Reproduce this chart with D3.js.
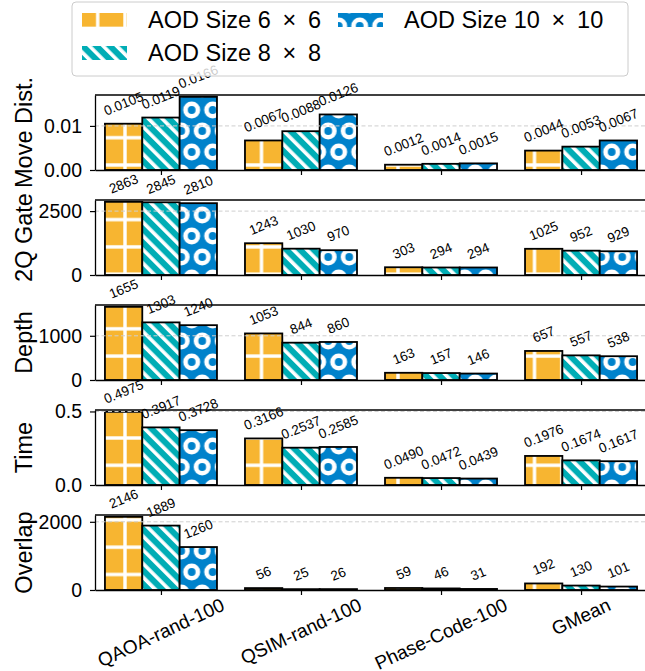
<!DOCTYPE html>
<html>
<head>
<meta charset="utf-8">
<script src="https://cdn.jsdelivr.net/npm/d3@7"></script>
<style>
  body { margin: 0; background: #fff; }
  text { font-family: "Liberation Sans", Arial, sans-serif; }
</style>
</head>
<body>
<script>
const categories = ["QAOA-rand-100", "QSIM-rand-100", "Phase-Code-100", "GMean"];
const seriesNames = ["AOD Size 6\u2002\u00d7\u20026", "AOD Size 8\u2002\u00d7\u20028", "AOD Size 10\u2002\u00d7\u200210"];

// one row per AOD size, one value per category
const moveDist = [[0.0105, 0.0067, 0.0012, 0.0044], [0.0119, 0.0088, 0.0014, 0.0053], [0.0166, 0.0126, 0.0015, 0.0067]];
const gateNum  = [[2863, 1243, 303, 1025], [2845, 1030, 294, 952], [2810, 970, 294, 929]];
const depth    = [[1655, 1053, 163, 657], [1303, 844, 157, 557], [1240, 860, 146, 538]];
const timeVals = [[0.4975, 0.3166, 0.0490, 0.1976], [0.3917, 0.2537, 0.0472, 0.1674], [0.3728, 0.2585, 0.0439, 0.1617]];
const overlap  = [[2146, 56, 59, 192], [1889, 25, 46, 130], [1260, 26, 31, 101]];

const panelLabels = ["Move Dist.", "2Q Gate", "Depth", "Time", "Overlap"];
const panelTicks = [[0, 0.01], [0, 2500], [0, 1000], [0, 0.5], [0, 2000]];

const colors = ["#f7b531", "#00adb5", "#0082cb"];

const panels = [
  { label: panelLabels[0], values: moveDist, ticks: panelTicks[0], tickFmt: d3.format(".2f"), valFmt: d3.format(".4f") },
  { label: panelLabels[1], values: gateNum,  ticks: panelTicks[1], tickFmt: d3.format("d"),   valFmt: d3.format("d") },
  { label: panelLabels[2], values: depth,    ticks: panelTicks[2], tickFmt: d3.format("d"),   valFmt: d3.format("d") },
  { label: panelLabels[3], values: timeVals, ticks: panelTicks[3], tickFmt: d3.format(".1f"), valFmt: d3.format(".4f") },
  { label: panelLabels[4], values: overlap,  ticks: panelTicks[4], tickFmt: d3.format("d"),   valFmt: d3.format("d") }
];

const width = 645, height = 671;
const plotLeft = 95, plotRight = 647;
const panelTop0 = 95, panelStep = 105, panelH = 75;

const svg = d3.select("body").append("svg")
  .attr("width", width)
  .attr("height", height);

// hatch patterns
const defs = svg.append("defs");
const cs = 27.3;
const pCross = defs.append("pattern").attr("id", "hatch0")
  .attr("patternUnits", "userSpaceOnUse")
  .attr("width", cs).attr("height", cs)
  .attr("x", 125 - cs / 2).attr("y", 137.7 - cs / 2);
pCross.append("rect").attr("width", cs).attr("height", cs).attr("fill", colors[0]);
pCross.append("rect").attr("x", cs / 2 - 1.7).attr("width", 3.4).attr("height", cs).attr("fill", "#fff");
pCross.append("rect").attr("y", cs / 2 - 1.7).attr("width", cs).attr("height", 3.4).attr("fill", "#fff");

const ds = 9.65;
const pDiag = defs.append("pattern").attr("id", "hatch1")
  .attr("patternUnits", "userSpaceOnUse")
  .attr("width", ds).attr("height", ds)
  .attr("patternTransform", "rotate(-45)");
pDiag.append("rect").attr("width", ds).attr("height", ds).attr("fill", colors[1]);
pDiag.append("rect").attr("width", 3.6).attr("height", ds).attr("fill", "#fff");

const os = 21;
const pCirc = defs.append("pattern").attr("id", "hatch2")
  .attr("patternUnits", "userSpaceOnUse")
  .attr("width", os).attr("height", os * 2)
  .attr("x", 191.7).attr("y", 110);
pCirc.append("rect").attr("width", os).attr("height", os * 2).attr("fill", colors[2]);
[[0, 0], [os, 0], [0, os * 2], [os, os * 2], [os / 2, os]].forEach(([cx, cy]) => {
  pCirc.append("circle").attr("cx", cx).attr("cy", cy).attr("r", 6.2)
    .attr("fill", "none").attr("stroke", "#fff").attr("stroke-width", 4.6);
});

const x = d3.scaleLinear().domain([-0.471, 3.471]).range([plotLeft, plotRight]);
const inner = d3.scaleBand().domain(d3.range(seriesNames.length)).range([-0.4, 0.4]);
const barW = x(inner.bandwidth()) - x(0);

// rotated text, bbox centred on ax, its top or bottom edge at ay (matplotlib style)
function rotatedLabel(parent, str, fs, ang, ax, ay, va) {
  const g = parent.append("g");
  const t = g.append("text")
    .text(str)
    .attr("font-size", fs)
    .attr("text-anchor", "middle")
    .attr("dominant-baseline", "central")
    .attr("fill", "#000");
  const L = t.node().getComputedTextLength();
  const r = ang * Math.PI / 180;
  const bh = L * Math.sin(r) + fs * Math.cos(r);
  const cy = va === "top" ? ay + bh / 2 : ay - bh / 2;
  g.attr("transform", `translate(${ax},${cy}) rotate(${-ang})`);
}

panels.forEach((p, pi) => {
  const top = panelTop0 + pi * panelStep, bottom = top + panelH;
  const y = d3.scaleLinear()
    .domain([0, d3.max(p.values.flat()) * 1.025])
    .range([bottom, top]);

  const g = svg.append("g");

  p.values.forEach((vals, si) => {
    g.append("g").selectAll("rect")
      .data(vals)
      .enter()
      .append("rect")
      .attr("x", (d, ci) => x(ci + inner(si)))
      .attr("y", d => y(d))
      .attr("width", barW)
      .attr("height", d => y(0) - y(d))
      .attr("fill", `url(#hatch${si})`)
      .attr("stroke", "#000")
      .attr("stroke-width", 1.8);
  });

  // dashed grid, above the bars like matplotlib's default
  g.append("g").selectAll("line")
    .data(p.ticks.filter(t => t > 0))
    .enter()
    .append("line")
    .attr("x1", plotLeft).attr("x2", plotRight)
    .attr("y1", d => y(d)).attr("y2", d => y(d))
    .attr("stroke", "#cfcfcf")
    .attr("stroke-width", 1)
    .attr("stroke-dasharray", "4,2.5");

  // top spine
  g.append("line")
    .attr("x1", plotLeft).attr("x2", plotRight)
    .attr("y1", top).attr("y2", top)
    .attr("stroke", "#000").attr("stroke-width", 1.3);

  const yAxis = g.append("g")
    .attr("transform", `translate(${plotLeft},0)`)
    .call(d3.axisLeft(y).tickValues(p.ticks).tickFormat(p.tickFmt).tickSize(5).tickSizeOuter(0).tickPadding(8));
  yAxis.select(".domain").attr("stroke-width", 1.3);
  yAxis.selectAll(".tick line").attr("stroke-width", 1.2);
  yAxis.selectAll("text")
    .attr("font-family", "Liberation Sans, Arial, sans-serif")
    .attr("font-size", 19.5)
    .attr("fill", "#000");

  const xAxis = g.append("g")
    .attr("transform", `translate(0,${bottom})`)
    .call(d3.axisBottom(x).tickValues(d3.range(categories.length)).tickFormat("").tickSize(5).tickSizeOuter(0));
  xAxis.select(".domain").attr("stroke-width", 1.3);
  xAxis.selectAll(".tick line").attr("stroke-width", 1.2);

  // y label
  g.append("text")
    .attr("transform", `translate(32,${(top + bottom) / 2}) rotate(-90)`)
    .attr("text-anchor", "middle")
    .attr("font-size", 23.5)
    .attr("fill", "#000")
    .text(p.label);

  // value labels
  const lg = g.append("g");
  p.values.forEach((vals, si) => {
    vals.forEach((v, ci) => {
      rotatedLabel(lg, p.valFmt(v), 13.5, 22, x(ci + inner(si)) + barW / 2, y(v) - 6, "bottom");
    });
  });

  // category labels on the last panel only
  if (pi === panels.length - 1) {
    categories.forEach((c, ci) => {
      rotatedLabel(g, c, 19, 25, x(ci), bottom + 5, "top");
    });
  }
});

// legend, drawn last with a translucent white box
const legend = svg.append("g");
legend.append("rect")
  .attr("x", 72).attr("y", 2)
  .attr("width", 556).attr("height", 74)
  .attr("rx", 4)
  .attr("fill", "#fff").attr("fill-opacity", 0.8)
  .attr("stroke", "#cccccc").attr("stroke-width", 1);

const legendPos = [[82, 20], [82, 53], [338, 20]];
seriesNames.forEach((name, si) => {
  const [lx, ly] = legendPos[si];
  legend.append("rect")
    .attr("x", lx).attr("y", ly - 7)
    .attr("width", 45).attr("height", 14)
    .attr("fill", `url(#hatch${si})`);
  legend.append("text")
    .attr("x", lx + 66).attr("y", ly)
    .attr("dominant-baseline", "central")
    .attr("font-size", 23.5)
    .attr("fill", "#000")
    .text(name);
});
</script>
</body>
</html>
